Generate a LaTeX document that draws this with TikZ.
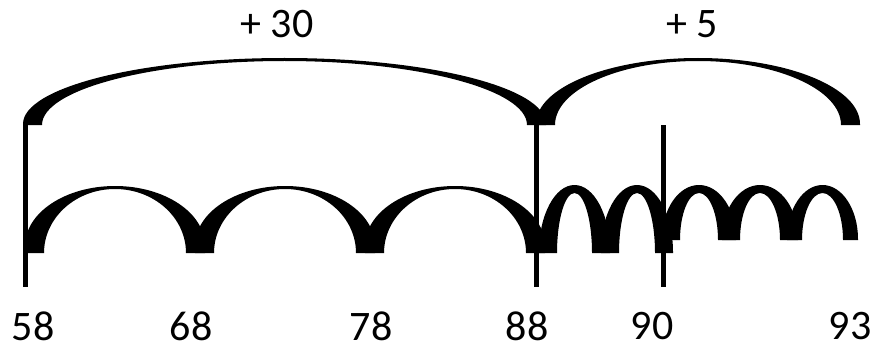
\documentclass[tikz,border=0pt]{standalone}
\usepackage{fontspec}
\setmainfont{Carlito}
% #1 centre x, #2 outer half-width, #3 inner half-width, #4 bottom y, #5 outer top y, #6 inner top y, #7 straight foot height
\newcommand{\mycrescent}[7]{%
  \fill[arcfill] ({#1-#2},{#4}) -- ({#1-#2},{#4-#7})
    arc[start angle=180,end angle=360,x radius={#2},y radius={#4-#7-(#5)}]
    -- ({#1+#2},{#4}) -- ({#1+#3},{#4})
    arc[start angle=360,end angle=180,x radius={#3},y radius={#4-(#6)}] -- cycle;}
\tikzset{
  arcfill/.style={fill=black},
  tickline/.style={draw=black,line width=5pt},
  numlabel/.style={inner sep=0pt,font=\fontsize{42}{46}\selectfont},
}
\begin{document}
\begin{tikzpicture}[x=1pt,y=-1pt]
\useasboundingbox (0,0) rectangle (877,350);
% big arcs
\mycrescent{284.5}{261.5}{242.5}{125}{58}{61}{1}
\mycrescent{698}{162}{143}{125}{58}{61}{1}
% small arcs 58 -> 88
\mycrescent{115}{90}{71}{253}{186}{189}{7}
\mycrescent{285}{90}{71}{253}{186}{189}{7}
\mycrescent{455}{90}{71}{253}{186}{189}{7}
% 88 -> 90
\mycrescent{574.5}{35.5}{17.5}{253}{185}{193}{1}
\mycrescent{637}{36}{18}{253}{185}{193}{1}
% 90 -> 93
\mycrescent{699}{37}{19}{240}{185}{193}{1}
\mycrescent{760}{38}{20}{240}{185}{193}{1}
\mycrescent{822.5}{35.5}{20.5}{240}{185}{193}{1}
% ticks
\coordinate (t1a) at (25,125); \coordinate (t1b) at (25,287);
\coordinate (t2a) at (536,125); \coordinate (t2b) at (536,287);
\coordinate (t3a) at (663,125); \coordinate (t3b) at (663,287);
\draw[tickline] (t1a) -- (t1b);
\draw[tickline] (t2a) -- (t2b);
\draw[tickline] (t3a) -- (t3b);
% labels
\node[numlabel] (p30) at (277,24) {+ 30};
\node[numlabel] (p5) at (692,24) {+ 5};
\node[numlabel] (n58) at (33,326) {58};
\node[numlabel] (n68) at (191,326) {68};
\node[numlabel] (n78) at (371,326) {78};
\node[numlabel] (n88) at (527,326) {88};
\node[numlabel] (n90) at (652,326) {90};
\node[numlabel] (n93) at (850,326) {93};
\end{tikzpicture}
\end{document}
